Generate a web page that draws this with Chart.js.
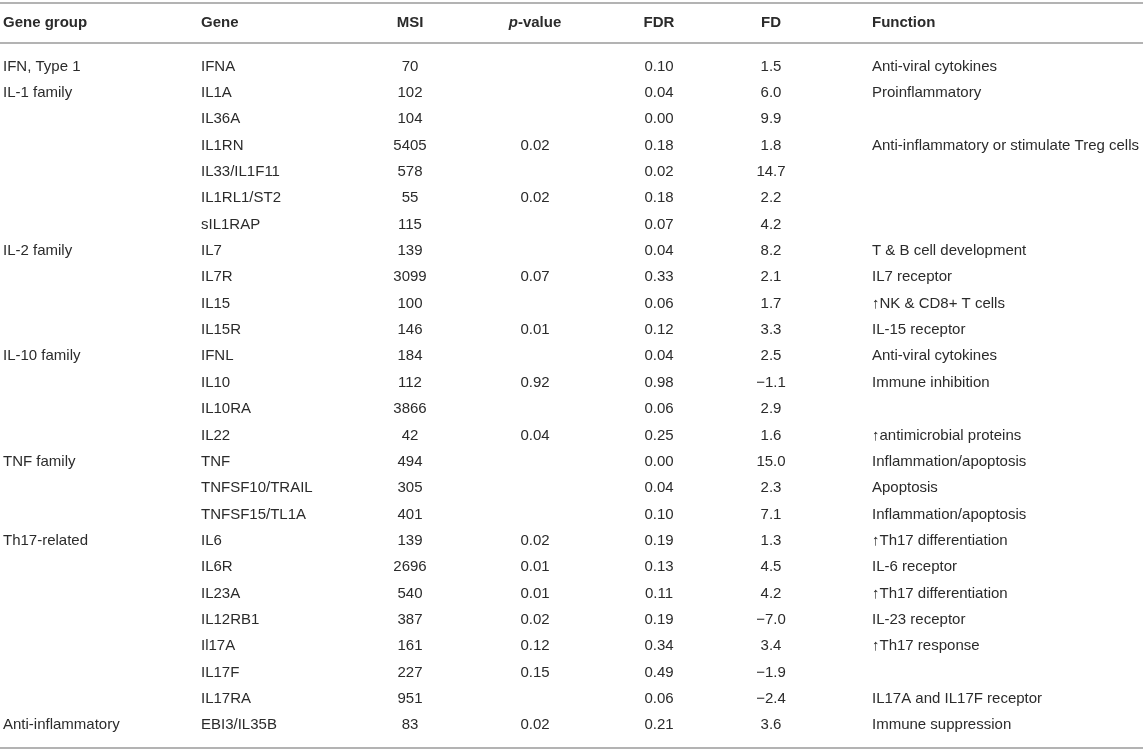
<!DOCTYPE html>
<html>
<head>
<meta charset="utf-8">
<script src="https://cdn.jsdelivr.net/npm/chart.js@4.4.0/dist/chart.umd.min.js"></script>
<style>
  html, body { margin: 0; padding: 0; background: #fff; }
  #wrap { width: 1143px; height: 751px; }
</style>
</head>
<body>
<div id="wrap"><canvas id="myChart"></canvas></div>
<script>
// table data, one array per column
var headers = ['Gene group', 'Gene', 'MSI', 'p-value', 'FDR', 'FD', 'Function'];

var groups = ['IFN, Type 1', 'IL-1 family', '', '', '', '', '',
    'IL-2 family', '', '', '',
    'IL-10 family', '', '', '',
    'TNF family', '', '',
    'Th17-related', '', '', '', '', '', '',
    'Anti-inflammatory'];

var genes = ['IFNA', 'IL1A', 'IL36A', 'IL1RN', 'IL33/IL1F11', 'IL1RL1/ST2', 'sIL1RAP',
    'IL7', 'IL7R', 'IL15', 'IL15R',
    'IFNL', 'IL10', 'IL10RA', 'IL22',
    'TNF', 'TNFSF10/TRAIL', 'TNFSF15/TL1A',
    'IL6', 'IL6R', 'IL23A', 'IL12RB1', 'Il17A', 'IL17F', 'IL17RA',
    'EBI3/IL35B'];

var msi = [70, 102, 104, 5405, 578, 55, 115,
    139, 3099, 100, 146,
    184, 112, 3866, 42,
    494, 305, 401,
    139, 2696, 540, 387, 161, 227, 951,
    83];

var pValues = [null, null, null, 0.02, null, 0.02, null,
    null, 0.07, null, 0.01,
    null, 0.92, null, 0.04,
    null, null, null,
    0.02, 0.01, 0.01, 0.02, 0.12, 0.15, null,
    0.02];

var fdr = [0.10, 0.04, 0.00, 0.18, 0.02, 0.18, 0.07,
    0.04, 0.33, 0.06, 0.12,
    0.04, 0.98, 0.06, 0.25,
    0.00, 0.04, 0.10,
    0.19, 0.13, 0.11, 0.19, 0.34, 0.49, 0.06,
    0.21];

var fd = [1.5, 6.0, 9.9, 1.8, 14.7, 2.2, 4.2,
    8.2, 2.1, 1.7, 3.3,
    2.5, -1.1, 2.9, 1.6,
    15.0, 2.3, 7.1,
    1.3, 4.5, 4.2, -7.0, 3.4, -1.9, -2.4,
    3.6];

var functions = ['Anti-viral cytokines', 'Proinflammatory', '', 'Anti-inflammatory or stimulate Treg cells', '', '', '',
    'T & B cell development', 'IL7 receptor', '\u2191NK & CD8+ T cells', 'IL-15 receptor',
    'Anti-viral cytokines', 'Immune inhibition', '', '\u2191antimicrobial proteins',
    'Inflammation/apoptosis', 'Apoptosis', 'Inflammation/apoptosis',
    '\u2191Th17 differentiation', 'IL-6 receptor', '\u2191Th17 differentiation', 'IL-23 receptor', '\u2191Th17 response', '', 'IL17A and IL17F receptor',
    'Immune suppression'];

function fmt(v, digits) {
    if (v === null || v === undefined) return '';
    var s = Math.abs(v).toFixed(digits);
    return v < 0 ? '\u2212' + s : s;
}

var columns = [
    groups,
    genes,
    msi.map(v => String(v)),
    pValues.map(v => fmt(v, 2)),
    fdr.map(v => fmt(v, 2)),
    fd.map(v => fmt(v, 1)),
    functions
];

// layout of the columns on the x scale
var colX = [3, 201, 410, 535, 659, 771, 872];
var colAlign = ['left', 'left', 'center', 'center', 'center', 'center', 'left'];

var FONT = '"Liberation Sans", Arial, Helvetica, sans-serif';
var TEXT = '#2b2b2b';
var RULE = '#b3b3b3';

var tablePlugin = {
    id: 'table',
    afterDraw(chart) {
        var ctx = chart.ctx;
        var x = chart.scales.x;
        var y = chart.scales.y;
        ctx.save();

        // rules
        ctx.strokeStyle = RULE;
        ctx.lineWidth = 2;
        [-2.41, -0.88, 25.87].forEach(function (v) {
            var py = Math.round(y.getPixelForValue(v));
            ctx.beginPath();
            ctx.moveTo(x.left, py);
            ctx.lineTo(x.right, py);
            ctx.stroke();
        });

        ctx.fillStyle = TEXT;
        ctx.textBaseline = 'middle';

        // header
        var hy = y.getPixelForValue(-1.65);
        headers.forEach(function (h, c) {
            var px = x.getPixelForValue(colX[c]);
            ctx.textAlign = colAlign[c];
            if (h === 'p-value') {
                ctx.font = 'italic bold 15px ' + FONT;
                var pw = ctx.measureText('p').width;
                ctx.font = 'bold 15px ' + FONT;
                var rw = ctx.measureText('-value').width;
                var start = px - (pw + rw) / 2;
                ctx.textAlign = 'left';
                ctx.font = 'italic bold 15px ' + FONT;
                ctx.fillText('p', start, hy);
                ctx.font = 'bold 15px ' + FONT;
                ctx.fillText('-value', start + pw, hy);
            } else {
                ctx.font = 'bold 15px ' + FONT;
                ctx.fillText(h, px, hy);
            }
        });

        // body
        ctx.font = '15px ' + FONT;
        columns.forEach(function (col, c) {
            ctx.textAlign = colAlign[c];
            var px = x.getPixelForValue(colX[c]);
            col.forEach(function (txt, r) {
                if (!txt) return;
                ctx.fillText(txt, px, y.getPixelForValue(r));
            });
        });
        ctx.restore();
    }
};

var ctx = document.getElementById('myChart').getContext('2d');
var myChart = new Chart(ctx, {
    type: 'scatter',
    data: { datasets: [] },
    options: {
        responsive: true,
        maintainAspectRatio: false,
        animation: false,
        layout: { padding: 0 },
        plugins: {
            legend: { display: false },
            tooltip: { enabled: false }
        },
        scales: {
            x: { type: 'linear', min: 0, max: 1143, display: false },
            y: { type: 'linear', min: -2.524, max: 25.977, reverse: true, display: false }
        }
    },
    plugins: [tablePlugin]
});
</script>
</body>
</html>
